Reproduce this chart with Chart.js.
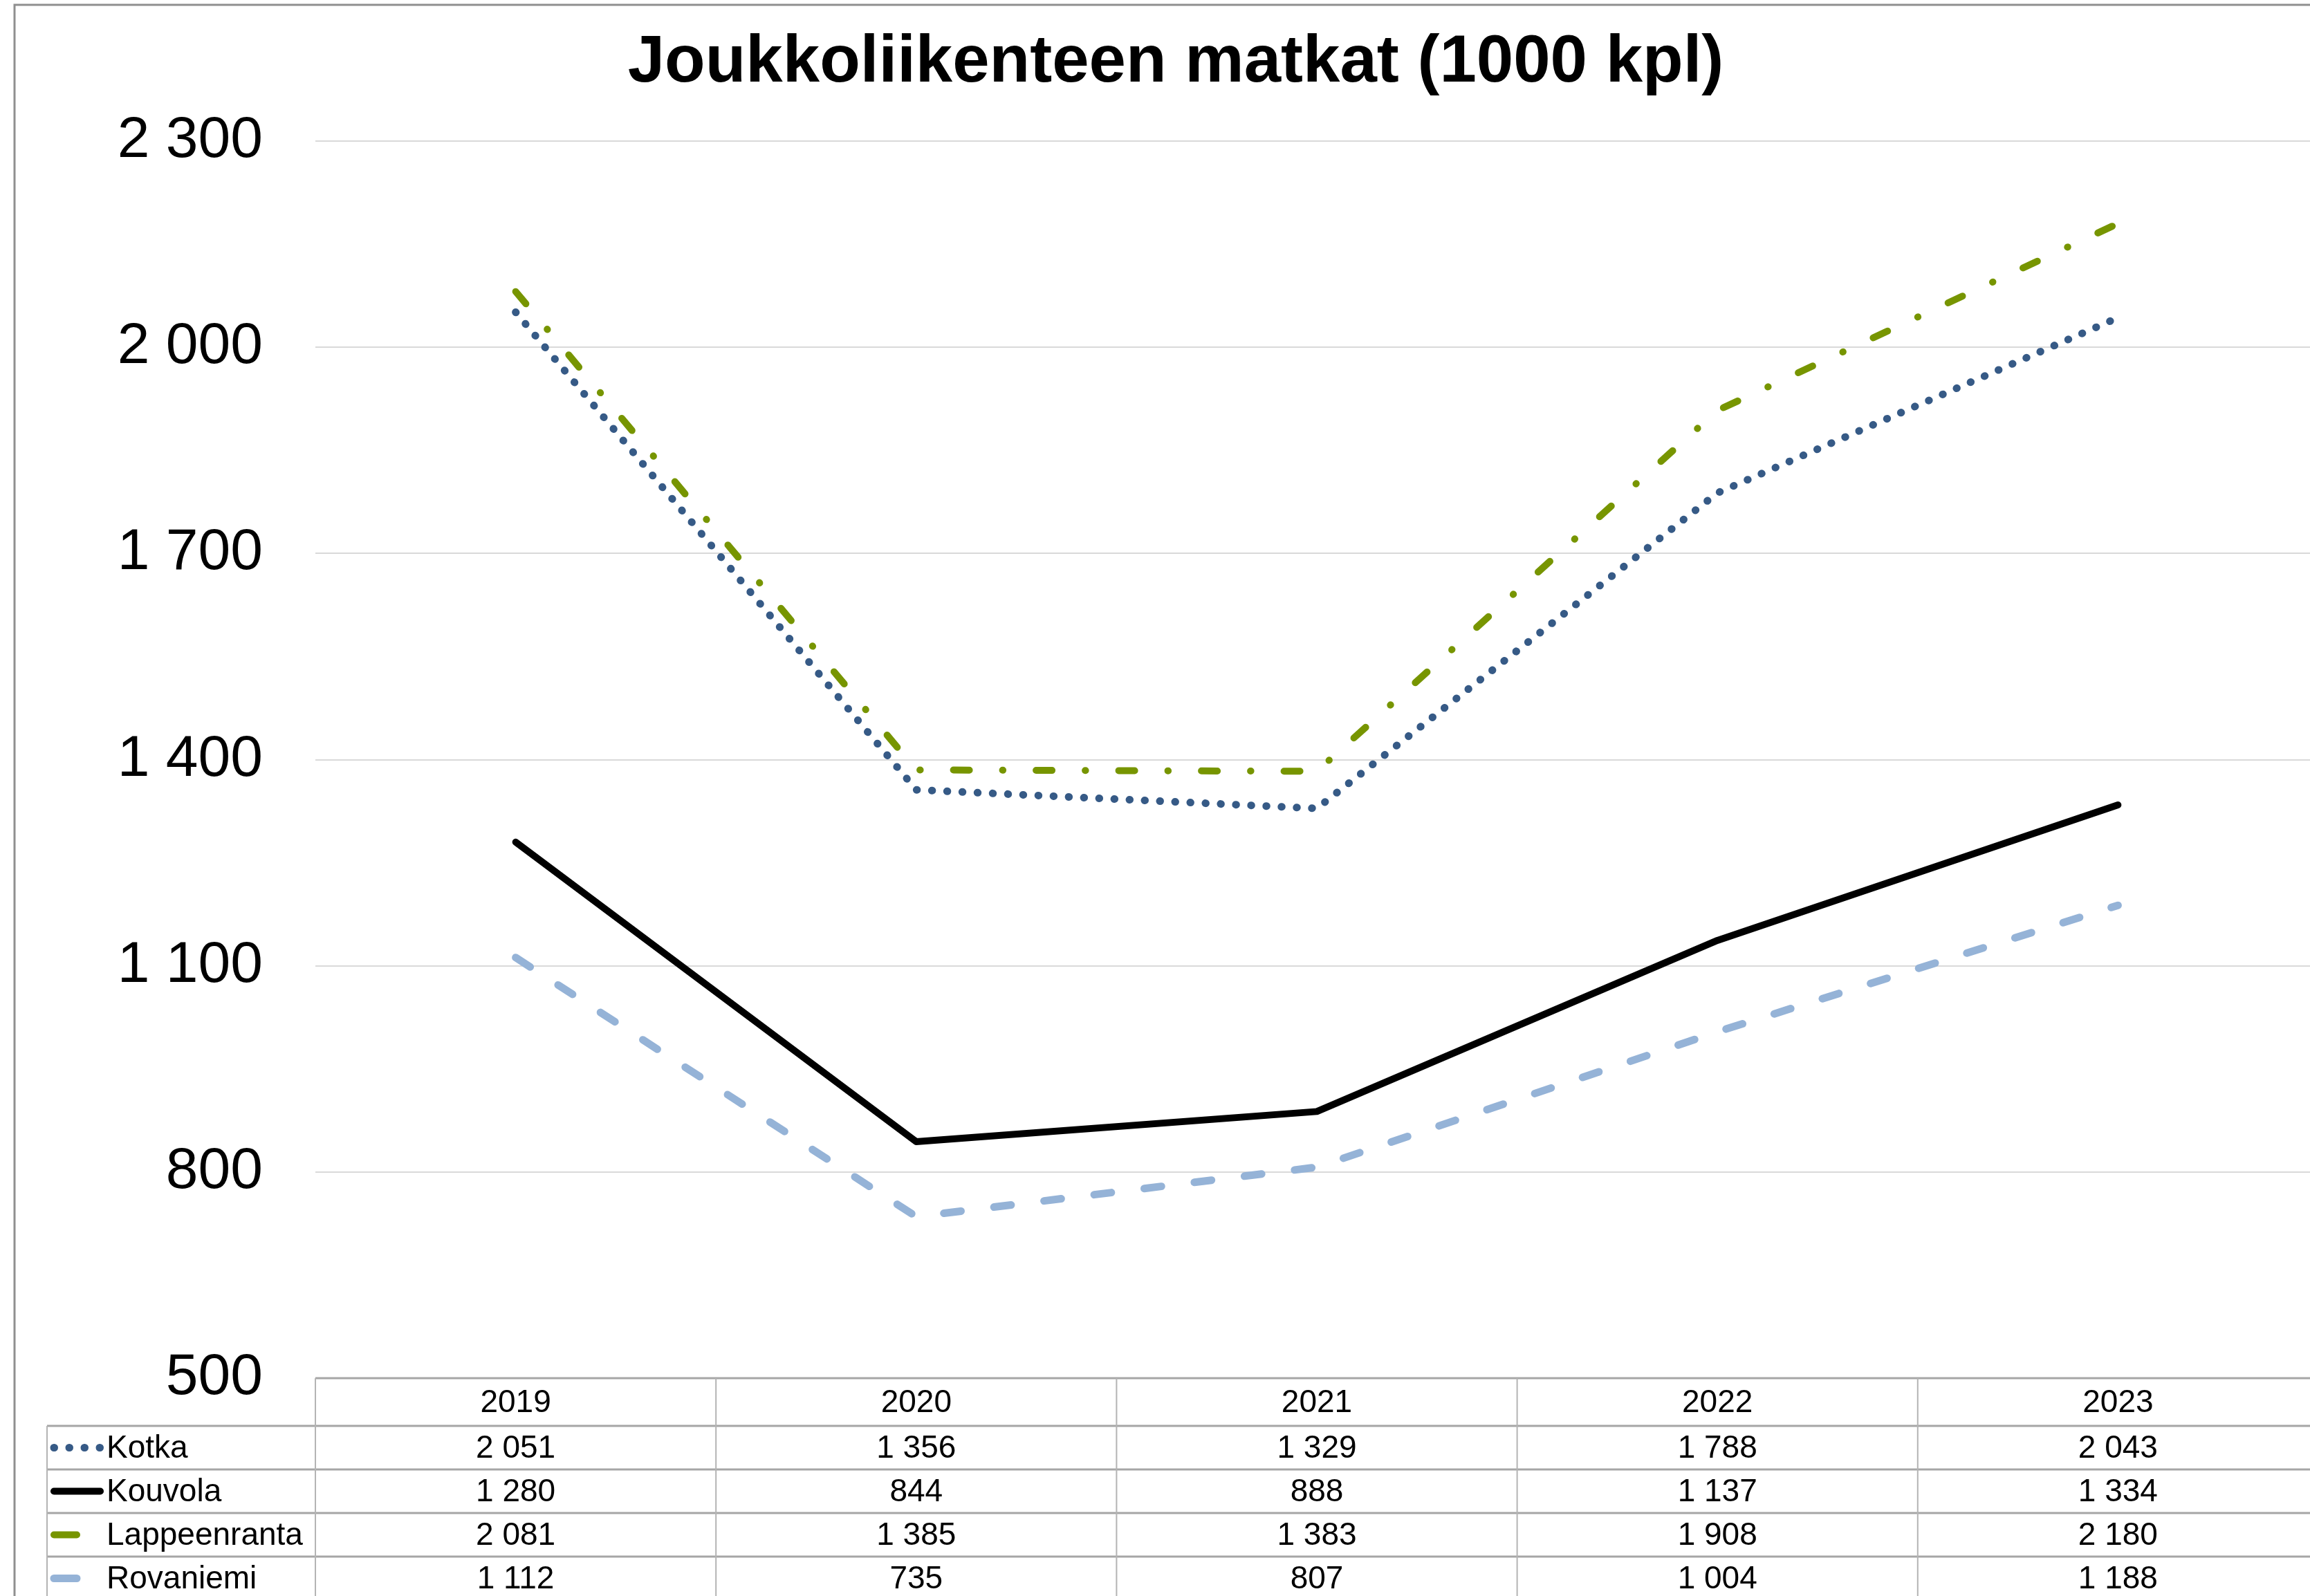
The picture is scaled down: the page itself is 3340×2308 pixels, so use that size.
<!DOCTYPE html>
<html>
<head>
<meta charset="utf-8">
<script src="https://cdn.jsdelivr.net/npm/chart.js@4.4.1/dist/chart.umd.min.js"></script>
<style>
    html, body { margin: 0; padding: 0; background: #fff; overflow: hidden; }
    #wrap { width: 3352px; height: 2308px; }
</style>
</head>
<body>
<div id="wrap"><canvas id="myChart" width="3352" height="2308"></canvas></div>
<script>
// data (1000 trips)
var TITLE = 'Joukkoliikenteen matkat (1000 kpl)';
var YEARS = ['2019', '2020', '2021', '2022', '2023'];
var KOTKA = [2051, 1356, 1329, 1788, 2043];
var KOUVOLA = [1280, 844, 888, 1137, 1334];
var LAPPEENRANTA = [2081, 1385, 1383, 1908, 2180];
var ROVANIEMI = [1112, 735, 807, 1004, 1188];
var Y_MIN = 500, Y_MAX = 2300, Y_STEP = 300;

var FONT = '"Liberation Sans", Arial, sans-serif';

function fmt(v) {
    // space as thousands separator, like the finnish excel sheet
    return String(v).replace(/\B(?=(\d{3})+(?!\d))/g, ' ');
}

// chart frame (only the left and top edge show in the picture) + title
var framePlugin = {
    id: 'frame',
    beforeDraw: function (chart) {
        var c = chart.ctx;
        c.save();
        c.fillStyle = '#fff';
        c.fillRect(0, 0, chart.width, chart.height);
        c.strokeStyle = '#8f8f8f';
        c.lineWidth = 3;
        c.beginPath();
        c.moveTo(21, chart.height);
        c.lineTo(21, 7);
        c.lineTo(chart.width, 7);
        c.stroke();

        c.fillStyle = '#000';
        c.font = 'bold 96px ' + FONT;
        c.textAlign = 'center';
        c.textBaseline = 'alphabetic';
        c.fillText(TITLE, 1700, 118);
        c.restore();
    }
};

// excel style data table under the plot, with legend keys
var tablePlugin = {
    id: 'dataTable',
    afterDraw: function (chart) {
        var c = chart.ctx;
        var area = chart.chartArea;
        var x = chart.scales.x;
        var colW = area.width / YEARS.length;
        var top = area.bottom;
        var headH = 69, rowH = 63;
        var keyLeft = 68;
        var sets = chart.data.datasets;
        var rowsBottom = top + headH + rowH * sets.length;
        var i, j, y;

        c.save();
        c.strokeStyle = '#a6a6a6';
        c.lineWidth = 3;
        c.beginPath();
        c.moveTo(area.left, top);
        c.lineTo(area.right, top);
        for (j = 0; j <= sets.length; j++) {
            y = top + headH + rowH * j;
            c.moveTo(keyLeft, y);
            c.lineTo(area.right, y);
        }
        c.stroke();

        c.lineWidth = 2;
        c.strokeStyle = '#b4b4b4';
        c.beginPath();
        for (i = 0; i <= YEARS.length; i++) {
            c.moveTo(area.left + colW * i, top);
            c.lineTo(area.left + colW * i, rowsBottom);
        }
        c.moveTo(keyLeft, top + headH);
        c.lineTo(keyLeft, rowsBottom);
        c.stroke();

        c.fillStyle = '#000';
        c.font = '46px ' + FONT;
        c.textAlign = 'center';
        c.textBaseline = 'middle';
        for (i = 0; i < YEARS.length; i++) {
            c.fillText(YEARS[i], x.getPixelForValue(i), top + headH / 2 + 2);
        }

        for (j = 0; j < sets.length; j++) {
            var ds = sets[j];
            y = top + headH + rowH * j + rowH / 2;

            // legend key
            c.save();
            c.strokeStyle = ds.borderColor;
            c.lineWidth = ds.borderWidth;
            c.lineCap = 'round';
            c.setLineDash(ds.keyDash || []);
            c.beginPath();
            c.moveTo(78, y);
            c.lineTo(ds.keyEnd, y);
            c.stroke();
            c.restore();

            c.textAlign = 'left';
            c.fillText(ds.label, 154, y + 2);
            c.textAlign = 'center';
            for (i = 0; i < ds.data.length; i++) {
                c.fillText(fmt(ds.data[i]), x.getPixelForValue(i), y + 2);
            }
        }
        c.restore();
    }
};

const ctx = document.getElementById('myChart').getContext('2d');
const myChart = new Chart(ctx, {
    type: 'line',
    data: {
        labels: YEARS,
        datasets: [{
                label: 'Kotka',
                data: KOTKA,
                borderColor: '#365a86',
                borderWidth: 11,
                borderDash: [0.5, 21.5],
                keyDash: [0.5, 21.5],
                keyEnd: 145
            }, {
                label: 'Kouvola',
                data: KOUVOLA,
                borderColor: '#000000',
                borderWidth: 10,
                keyEnd: 145
            }, {
                label: 'Lappeenranta',
                data: LAPPEENRANTA,
                borderColor: '#779500',
                borderWidth: 10,
                borderDash: [23, 48, 0.5, 48],
                keyDash: [33, 100],
                keyEnd: 111
            }, {
                label: 'Rovaniemi',
                data: ROVANIEMI,
                borderColor: '#95b3d7',
                borderWidth: 11,
                borderDash: [25, 48],
                keyDash: [33, 100],
                keyEnd: 111
            }]
    },
    options: {
        responsive: false,
        animation: false,
        devicePixelRatio: 1,
        layout: {
            padding: { left: 0, right: 0, top: 204, bottom: 315 }
        },
        elements: {
            point: { radius: 0 },
            line: { tension: 0, borderCapStyle: 'round', borderJoinStyle: 'round', fill: false }
        },
        plugins: {
            legend: { display: false },
            tooltip: { enabled: false },
            title: { display: false }
        },
        scales: {
            x: {
                display: false,
                offset: true
            },
            y: {
                min: Y_MIN,
                max: Y_MAX,
                border: { display: false },
                grid: { color: '#d9d9d9', lineWidth: 2, drawTicks: false },
                ticks: {
                    stepSize: Y_STEP,
                    padding: 76,
                    color: '#000',
                    font: { family: FONT, size: 84 },
                    callback: function (v) { return fmt(v); }
                },
                afterFit: function (scale) { scale.width = 456; }
            }
        }
    },
    plugins: [framePlugin, tablePlugin]
});
</script>
</body>
</html>
